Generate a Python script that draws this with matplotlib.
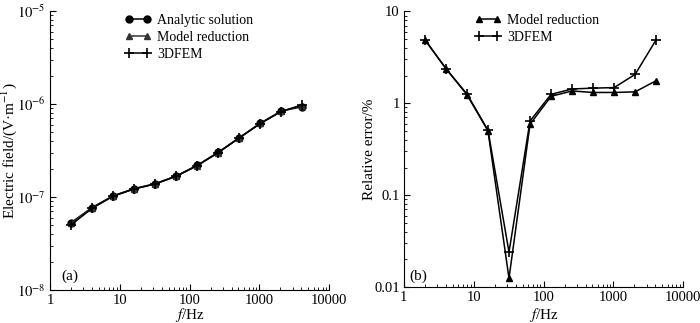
import matplotlib
matplotlib.use("Agg")
import matplotlib.pyplot as plt
from matplotlib.ticker import LogLocator, FixedLocator, FixedFormatter, NullFormatter

plt.rcParams['font.family'] = ['Liberation Serif', 'DejaVu Serif']
plt.rcParams['mathtext.fontset'] = 'stix'

freq = [2, 4, 8, 16, 32, 64, 128, 256, 512, 1024, 2048, 4096]

# Panel (a): electric field (V/m)
field_analytic = [5.3e-8, 7.7e-8, 1.03e-7, 1.23e-7, 1.39e-7, 1.68e-7, 2.19e-7, 3.02e-7, 4.34e-7, 6.2e-7, 8.4e-7, 9.35e-7]
field_model = [5.2e-8, 7.65e-8, 1.025e-7, 1.225e-7, 1.385e-7, 1.675e-7, 2.18e-7, 3.0e-7, 4.32e-7, 6.18e-7, 8.35e-7, 9.6e-7]
field_fem = [5.0e-8, 7.55e-8, 1.02e-7, 1.22e-7, 1.38e-7, 1.67e-7, 2.17e-7, 3.0e-7, 4.3e-7, 6.15e-7, 8.3e-7, 9.8e-7]

# Panel (b): relative error (%)
err_model = [4.9, 2.38, 1.24, 0.50, 0.0125, 0.59, 1.19, 1.36, 1.31, 1.31, 1.33, 1.76]
err_fem = [4.9, 2.38, 1.26, 0.51, 0.024, 0.64, 1.25, 1.43, 1.46, 1.48, 2.06, 4.9]

xticks = [1, 10, 100, 1000, 10000]
xticklabels = ['1', '10', '100', '1000', '10000']

fig = plt.figure(figsize=(7.0, 3.23), dpi=100)
ax1 = fig.add_axes([0.0714, 0.102, 0.399, 0.864])
ax2 = fig.add_axes([0.577, 0.111, 0.399, 0.854])

lw = 1.1
ax1.plot(freq, field_analytic, '-', color='black', marker='o', ms=5, lw=lw, label='Analytic solution')
ax1.plot(freq, field_model, '-', color='#333333', marker='^', ms=4.5, lw=lw, label='Model reduction')
ax1.plot(freq, field_fem, '-', color='black', marker='+', ms=7, mew=1.2, lw=lw, label='3DFEM')

ax2.plot(freq, err_model, '-', color='black', marker='^', ms=4.5, lw=lw, label='Model reduction')
ax2.plot(freq, err_fem, '-', color='black', marker='+', ms=7, mew=1.2, lw=lw, label='3DFEM')

for ax, lx in ((ax1, 0.269), (ax2, 0.254)):
    ax.set_xscale('log')
    ax.set_yscale('log')
    ax.set_xlim(1, 10000)
    ax.spines['top'].set_visible(False)
    ax.spines['right'].set_visible(False)
    ax.xaxis.set_major_locator(FixedLocator(xticks))
    ax.xaxis.set_major_formatter(FixedFormatter(xticklabels))
    ax.xaxis.set_minor_locator(LogLocator(base=10, subs=range(2, 10)))
    ax.xaxis.set_minor_formatter(NullFormatter())
    ax.yaxis.set_minor_locator(LogLocator(base=10, subs=range(2, 10)))
    ax.yaxis.set_minor_formatter(NullFormatter())
    ax.tick_params(which='major', direction='in', length=4, width=0.8, labelsize=10.5, pad=3)
    ax.tick_params(which='minor', direction='in', length=2, width=0.6)
    ax.set_xlabel('$f$/Hz', fontsize=11)
    ax.legend(loc='upper left', bbox_to_anchor=(lx, 0.99), frameon=False, numpoints=2,
              fontsize=10, handlelength=1.9, handletextpad=0.4, labelspacing=0.3,
              borderpad=0, borderaxespad=0)

ax1.set_ylim(1e-8, 1e-5)
ax1.yaxis.set_major_locator(FixedLocator([1e-8, 1e-7, 1e-6, 1e-5]))
ax1.yaxis.set_major_formatter(FixedFormatter(['$10^{-8}$', '$10^{-7}$', '$10^{-6}$', '$10^{-5}$']))
ax1.set_ylabel('Electric field/(V·m$^{-1}$)', fontsize=11)
ax1.yaxis.set_label_coords(-0.11, 0.5)
ax1.xaxis.set_label_coords(0.5, -0.058)
ax1.text(0.04, 0.05, '(a)', transform=ax1.transAxes, fontsize=11, va='center')

ax2.set_ylim(0.01, 10)
ax2.yaxis.set_major_locator(FixedLocator([0.01, 0.1, 1, 10]))
ax2.yaxis.set_major_formatter(FixedFormatter(['0.01', '0.1', '1', '10']))
ax2.set_ylabel('Relative error/%', fontsize=11)
ax2.yaxis.set_label_coords(-0.10, 0.5)
ax2.xaxis.set_label_coords(0.5, -0.068)
ax2.text(0.02, 0.04, '(b)', transform=ax2.transAxes, fontsize=11, va='center')

fig.savefig('out.png', dpi=100)
